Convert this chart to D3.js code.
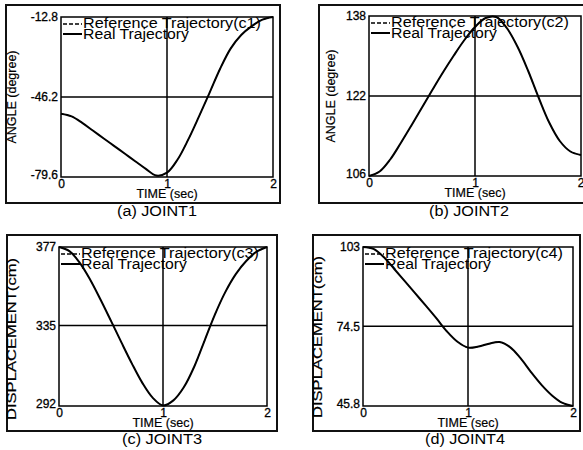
<!DOCTYPE html>
<html>
<head>
<meta charset="utf-8">
<script src="https://cdn.jsdelivr.net/npm/d3@7"></script>
<style>
  body { margin: 0; background: #fff; }
  svg { display: block; font-family: "Liberation Sans", Arial, sans-serif; }
</style>
</head>
<body>
<svg id="chart" width="583" height="450"></svg>
<script>
// time samples (sec), shared by all four joints
const timeSec = [0, 0.1, 0.2, 0.3, 0.4, 0.5, 0.6, 0.7, 0.8, 0.9, 1.0,
  1.1, 1.2, 1.3, 1.4, 1.5, 1.6, 1.7, 1.8, 1.9, 2.0];

// joint values
const joint1Angle = [-53.2, -54.3, -57.0, -60.2, -63.4, -66.6, -69.8, -73.0, -76.2, -79.0, -77.8,
  -72.3, -64.0, -54.5, -44.6, -34.5, -26.0, -20.3, -16.6, -13.9, -12.8];
const joint2Angle = [106.0, 106.9, 109.3, 112.6, 116.1, 119.7, 123.3, 126.8, 130.1, 133.2, 135.8,
  137.6, 137.8, 135.6, 131.9, 127.1, 121.7, 116.7, 113.0, 110.9, 110.2];
const joint3Disp = [377, 374.8, 368.5, 359.5, 348.8, 337.5, 326.0, 314.8, 304.5, 296.5, 292.3,
  295.0, 302.0, 313.0, 327.0, 341.0, 353.0, 362.5, 369.5, 374.5, 377];
const joint4Disp = [103, 102.3, 99.3, 95.0, 90.6, 86.2, 81.8, 77.3, 72.6, 68.9, 66.8,
  67.2, 68.2, 68.8, 67.0, 63.0, 58.0, 53.4, 49.6, 46.9, 45.8];

// axis ticks and labels
const xTicks = [0, 1, 2];
const yTicks1 = [-79.6, -46.2, -12.8];
const yTicks2 = [106, 122, 138];
const yTicks3 = [292, 335, 377];
const yTicks4 = [45.8, 74.5, 103];
const yTitles = ["ANGLE (degree)", "ANGLE (degree)", "DISPLACEMENT(cm)", "DISPLACEMENT(cm)"];
const captions = ["(a) JOINT1", "(b) JOINT2", "(c) JOINT3", "(d) JOINT4"];
const legendTags = ["(c1)", "(c2)", "(c3)", "(c4)"];
const legendNames = ["Reference Trajectory", "Real Trajectory"];
const xTitle = "TIME (sec)";

const series = [joint1Angle, joint2Angle, joint3Disp, joint4Disp];
const yTickSets = [yTicks1, yTicks2, yTicks3, yTicks4];

// layout of each panel: outer frame and plot area (pixels)
const layout = [
  { frame: [6, 5, 280, 203], plot: [61, 17, 273, 177], ytx: 12, yty: 97, ytLen: 93, capX: 157 },
  { frame: [319, 5, 586, 203], plot: [369, 16, 581, 176], ytx: 331, yty: 96, ytLen: 93, capX: 469 },
  { frame: [7, 235, 277, 431], plot: [59, 247, 267, 406], ytx: 12, yty: 339, ytLen: 162, capX: 162 },
  { frame: [313, 235, 580, 431], plot: [363, 247, 573, 406], ytx: 318, yty: 337, ytLen: 162, capX: 465 }
];

const svg = d3.select("#chart");

series.forEach((values, i) => {
  const L = layout[i];
  const [fx0, fy0, fx1, fy1] = L.frame;
  const [px0, py0, px1, py1] = L.plot;
  const ticks = yTickSets[i];
  const g = svg.append("g").attr("class", "panel");

  // outer frame
  g.append("rect")
    .attr("x", fx0).attr("y", fy0)
    .attr("width", fx1 - fx0).attr("height", fy1 - fy0)
    .attr("fill", "none").attr("stroke", "#111").attr("stroke-width", 2);

  const x = d3.scaleLinear().domain([0, 2]).range([px0, px1]);
  const y = d3.scaleLinear().domain([ticks[0], ticks[2]]).range([py1, py0]);

  // plot box
  g.append("rect")
    .attr("x", px0).attr("y", py0)
    .attr("width", px1 - px0).attr("height", py1 - py0)
    .attr("fill", "none").attr("stroke", "#000").attr("stroke-width", 1.5);

  // cross lines at t=1 and middle value
  g.append("line")
    .attr("x1", x(1)).attr("x2", x(1)).attr("y1", py0).attr("y2", py1)
    .attr("stroke", "#000").attr("stroke-width", 1.5);
  g.append("line")
    .attr("x1", px0).attr("x2", px1).attr("y1", y(ticks[1])).attr("y2", y(ticks[1]))
    .attr("stroke", "#000").attr("stroke-width", 1.5);

  // y axis labels
  const yAxis = d3.axisLeft(y).tickValues(ticks).tickSize(0).tickPadding(3)
    .tickFormat(d => String(d));
  const ya = g.append("g").attr("transform", `translate(${px0},0)`).call(yAxis);
  ya.select(".domain").remove();
  ya.selectAll("text").attr("font-size", 12).attr("fill", "#000")
    .attr("font-family", "Liberation Sans, Arial, sans-serif")
    .attr("stroke", "#000").attr("stroke-width", 0.3)
    .attr("dy", (d, k) => (k === 0 ? "0.1em" : "0.32em"));

  // x axis labels
  const xAxis = d3.axisBottom(x).tickValues(xTicks).tickSize(0).tickPadding(2)
    .tickFormat(d3.format("d"));
  const xa = g.append("g").attr("transform", `translate(0,${py1})`).call(xAxis);
  xa.select(".domain").remove();
  xa.selectAll("text").attr("font-size", 12).attr("fill", "#000")
    .attr("font-family", "Liberation Sans, Arial, sans-serif")
    .attr("stroke", "#000").attr("stroke-width", 0.3)
    .attr("text-anchor", d => (d === 2 && px1 > 575 ? "end" : "middle"))
    .attr("dx", d => (d === 2 && px1 > 575 ? 3 : 0));

  // axis titles
  g.append("text")
    .attr("x", x(1)).attr("y", py1 + 21)
    .attr("text-anchor", "middle").attr("font-size", 12.5)
    .attr("stroke", "#000").attr("stroke-width", 0.2)
    .text(xTitle);
  g.append("text")
    .attr("transform", `translate(${L.ytx + 4},${L.yty}) rotate(-90)`)
    .attr("text-anchor", "middle").attr("font-size", 13)
    .attr("stroke", "#000").attr("stroke-width", 0.2)
    .attr("textLength", L.ytLen).attr("lengthAdjust", "spacingAndGlyphs")
    .text(yTitles[i]);

  // caption under the frame
  g.append("text")
    .attr("x", L.capX).attr("y", fy1 + 13)
    .attr("text-anchor", "middle").attr("font-size", 14)
    .attr("textLength", 80).attr("lengthAdjust", "spacingAndGlyphs")
    .text(captions[i]);

  // trajectories: reference (dashed) and real (solid)
  const pts = timeSec.map((t, k) => [t, values[k]]);
  const line = d3.line().x(d => x(d[0])).y(d => y(d[1])).curve(d3.curveCatmullRom.alpha(0.5));
  g.append("path").datum(pts)
    .attr("d", line).attr("fill", "none")
    .attr("stroke", "#000").attr("stroke-width", 1).attr("stroke-dasharray", "4,2");
  g.append("path").datum(pts)
    .attr("d", line).attr("fill", "none")
    .attr("stroke", "#000").attr("stroke-width", 2);

  // legend
  const lg = g.append("g").attr("transform", `translate(${px0},${py0})`);
  lg.append("line").attr("x1", 2).attr("x2", 21).attr("y1", 7).attr("y2", 7)
    .attr("stroke", "#000").attr("stroke-width", 1.5).attr("stroke-dasharray", "4,2");
  lg.append("line").attr("x1", 2).attr("x2", 21).attr("y1", 17).attr("y2", 17)
    .attr("stroke", "#000").attr("stroke-width", 2);
  lg.append("text").attr("x", 22).attr("y", 11).attr("font-size", 14)
    .attr("textLength", 178).attr("lengthAdjust", "spacingAndGlyphs")
    .text(legendNames[0] + legendTags[i]);
  lg.append("text").attr("x", 22).attr("y", 21.5).attr("font-size", 14)
    .attr("textLength", 106).attr("lengthAdjust", "spacingAndGlyphs")
    .text(legendNames[1]);
});
</script>
</body>
</html>
